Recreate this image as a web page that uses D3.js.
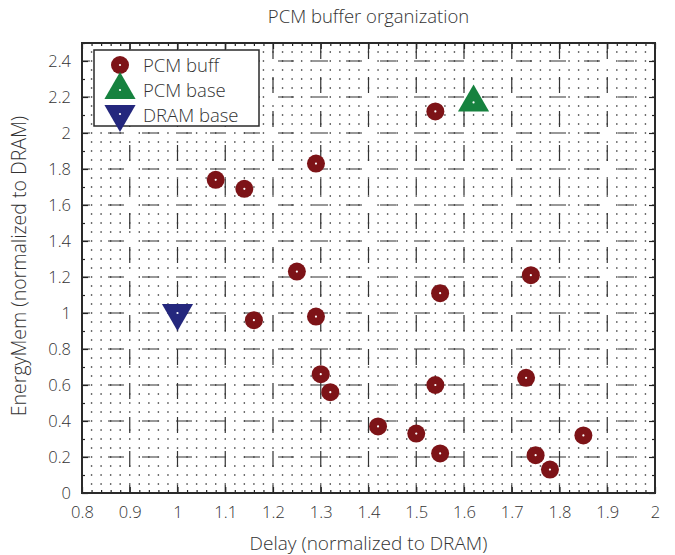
<!DOCTYPE html>
<html><head><meta charset="utf-8">
<script src="https://cdn.jsdelivr.net/npm/d3@7"></script>
<style>body{margin:0;background:#fff}svg{display:block}text{font-family:"Open Sans",Roboto,sans-serif;fill:#333}</style>
</head><body>
<script>
const pcmBuffX = [1.54,1.08,1.14,1.29,1.25,1.74,1.55,1.16,1.29,1.30,1.32,1.54,1.73,1.42,1.50,1.55,1.75,1.78,1.85];
const pcmBuffY = [2.12,1.74,1.69,1.83,1.23,1.21,1.11,0.96,0.98,0.66,0.56,0.60,0.64,0.37,0.33,0.22,0.21,0.13,0.32];
const pcmBaseX = [1.62], pcmBaseY = [2.17];
const dramBaseX = [1.0], dramBaseY = [1.0];
const xTicks = [0.8,0.9,1,1.1,1.2,1.3,1.4,1.5,1.6,1.7,1.8,1.9,2];
const yTicks = [0,0.2,0.4,0.6,0.8,1,1.2,1.4,1.6,1.8,2,2.2,2.4];
const legendLabels = ["PCM buff","PCM base","DRAM base"];
const colors = {buff:"#7d1317", base:"#16823f", dram:"#24277d"};

const W=675,H=555, L=82,R=655,T=43,B=493;
const svg=d3.select("body").append("svg").attr("width",W).attr("height",H);
const x=d3.scaleLinear().domain([0.8,2]).range([L,R]);
const y=d3.scaleLinear().domain([0,2.5]).range([B,T]);

const g=svg.append("g");
// minor grid: dot lattice
const isMaj=(v,s)=>Math.abs(Math.round(v/s)-v/s)<1e-6;
const xMinor=d3.range(1,60).map(i=>0.8+i*0.02);
const yMinor=d3.range(1,50).map(i=>i*0.05);
const pts=[];
xMinor.forEach(a=>yMinor.forEach(b=>{ if(!isMaj(a,0.1)||!isMaj(b,0.2)) pts.push([a,b]); }));
g.selectAll(".dot").data(pts).enter().append("rect")
 .attr("x",d=>x(d[0])-0.7).attr("y",d=>y(d[1])-0.7).attr("width",1.4).attr("height",1.4).attr("fill","#333");
// major grid
g.selectAll(".Mx").data(xTicks.slice(1,-1)).enter().append("line")
 .attr("x1",d=>x(d)).attr("x2",d=>x(d)).attr("y1",B).attr("y2",T)
 .attr("stroke","#333").attr("stroke-width",1.2).attr("stroke-dasharray","16,18").attr("stroke-dashoffset",8);
g.selectAll(".My").data(yTicks.slice(1)).enter().append("line")
 .attr("y1",d=>y(d)).attr("y2",d=>y(d)).attr("x1",L).attr("x2",R)
 .attr("stroke","#333").attr("stroke-width",1.2).attr("stroke-dasharray","16,18").attr("stroke-dashoffset",8);

// axes with inward ticks
const fmt=d=>String(+d.toFixed(2));
svg.append("g").attr("transform",`translate(0,${B})`)
 .call(d3.axisBottom(x).tickValues(xTicks).tickFormat(fmt).tickSizeInner(-6).tickSizeOuter(0).tickPadding(13));
svg.append("g").attr("transform",`translate(${L},0)`)
 .call(d3.axisLeft(y).tickValues(yTicks).tickFormat(fmt).tickSizeInner(-6).tickSizeOuter(0).tickPadding(11));
svg.append("g").attr("transform",`translate(0,${T})`)
 .call(d3.axisTop(x).tickValues(xTicks).tickFormat("").tickSizeInner(-6).tickSizeOuter(0));
svg.append("g").attr("transform",`translate(${R},0)`)
 .call(d3.axisRight(y).tickValues(yTicks).tickFormat("").tickSizeInner(-6).tickSizeOuter(0));
const xMinT=xMinor.filter(v=>!isMaj(v,0.1)), yMinT=d3.range(0,25).map(i=>i*0.1+0.1).filter(v=>!isMaj(v,0.2));
svg.append("g").attr("transform",`translate(0,${B})`).call(d3.axisBottom(x).tickValues(xMinT).tickFormat("").tickSizeInner(-3).tickSizeOuter(0));
svg.append("g").attr("transform",`translate(0,${T})`).call(d3.axisTop(x).tickValues(xMinT).tickFormat("").tickSizeInner(-3).tickSizeOuter(0));
svg.append("g").attr("transform",`translate(${L},0)`).call(d3.axisLeft(y).tickValues(yMinT).tickFormat("").tickSizeInner(-3).tickSizeOuter(0));
svg.append("g").attr("transform",`translate(${R},0)`).call(d3.axisRight(y).tickValues(yMinT).tickFormat("").tickSizeInner(-3).tickSizeOuter(0));
svg.selectAll(".domain").remove();
svg.selectAll(".tick line").attr("stroke","#222").attr("stroke-width",1.2);
svg.selectAll(".tick text").attr("font-size",16.5).attr("font-family","Open Sans").attr("font-weight",300).attr("fill","#333");
svg.append("rect").attr("x",L).attr("y",T).attr("width",R-L).attr("height",B-T)
 .attr("fill","none").attr("stroke","#2a2a2a").attr("stroke-width",2);

// markers
const triUp=d3.symbol().type(d3.symbolTriangle).size(420);
function circle(sel,cx,cy,c){
 sel.append("circle").attr("cx",cx).attr("cy",cy).attr("r",9).attr("fill",c);
 sel.append("circle").attr("cx",cx).attr("cy",cy).attr("r",1.1).attr("fill","#fff");
}
function tri(sel,cx,cy,c,down){
 sel.append("path").attr("d",triUp()).attr("transform",`translate(${cx},${cy})`+(down?" rotate(180)":"")).attr("fill",c);
 sel.append("circle").attr("cx",cx).attr("cy",cy).attr("r",1.1).attr("fill","#fff");
}
const m=svg.append("g");
pcmBuffX.forEach((d,i)=>circle(m,x(d),y(pcmBuffY[i]),colors.buff));
pcmBaseX.forEach((d,i)=>tri(m,x(d),y(pcmBaseY[i]),colors.base,false));
dramBaseX.forEach((d,i)=>tri(m,x(d),y(dramBaseY[i]),colors.dram,true));

// legend
const lg=svg.append("g");
lg.append("rect").attr("x",94).attr("y",50).attr("width",165).attr("height",76)
 .attr("fill","#fff").attr("stroke","#2a2a2a").attr("stroke-width",1.5);
circle(lg,120,65,colors.buff);
tri(lg,120,90,colors.base,false);
tri(lg,120,114,colors.dram,true);
legendLabels.forEach((t,i)=>lg.append("text").attr("x",143).attr("y",65+i*25).attr("dy","0.36em")
 .attr("font-size",18.5).attr("font-weight",300).text(t));

// titles
svg.append("text").attr("x",(L+R)/2).attr("y",23).attr("text-anchor","middle").attr("font-size",18.5).attr("font-weight",300).text("PCM buffer organization");
svg.append("text").attr("x",(L+R)/2).attr("y",550).attr("text-anchor","middle").attr("font-size",19).attr("font-weight",300).text("Delay (normalized to DRAM)");
svg.append("text").attr("transform",`translate(26,${(T+B)/2-2}) rotate(-90)`).attr("text-anchor","middle").attr("font-size",19.5).attr("font-weight",300).text("EnergyMem (normalized to DRAM)");
</script>
</body></html>
